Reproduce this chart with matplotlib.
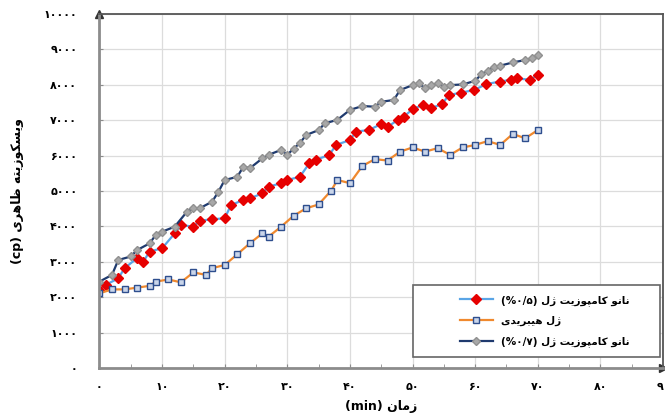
import matplotlib
matplotlib.use("Agg")
import matplotlib.pyplot as plt
from matplotlib.patches import Rectangle

# Viscosity (cp) versus time (min) for the three gels
t_nano05 = [0, 1, 3, 4, 6, 7, 8, 10, 12, 13, 15, 16, 18, 20, 21, 23, 24, 26, 27, 29,
            30, 32, 33.5, 34.6, 36.7, 37.8, 40, 41, 43, 45, 46, 47.6, 48.6, 50, 51.6,
            52.9, 54.7, 55.8, 57.8, 59.8, 61.8, 63.9, 65.7, 66.7, 68.8, 70]
v_nano05 = [2200, 2350, 2530, 2820, 3100, 3000, 3290, 3380, 3800, 4040, 3990, 4160,
            4200, 4230, 4600, 4750, 4790, 4930, 5120, 5220, 5310, 5400, 5780, 5880,
            6020, 6300, 6440, 6680, 6720, 6890, 6810, 7000, 7100, 7310, 7430, 7340,
            7450, 7710, 7780, 7850, 8020, 8090, 8140, 8180, 8140, 8280]

t_hybrid = [0, 2, 4, 6, 8, 9, 11, 13, 15, 17, 18, 20, 22, 24, 26, 27, 29, 31, 33, 35,
            37, 38, 40, 42, 44, 46, 48, 50, 52, 54, 56, 58, 60, 62, 64, 66, 68, 70]
v_hybrid = [2110, 2220, 2220, 2270, 2320, 2440, 2500, 2420, 2700, 2630, 2820, 2910,
            3210, 3520, 3800, 3710, 3990, 4300, 4510, 4620, 5010, 5310, 5220, 5710,
            5900, 5860, 6110, 6230, 6110, 6210, 6020, 6230, 6300, 6410, 6300, 6610,
            6490, 6720]

t_nano07 = [0, 2, 3, 5, 6, 8, 9, 10, 12, 14, 15, 16, 18, 19, 20, 22, 23, 24, 26, 27,
            29, 30, 31, 32, 33, 35, 36, 38, 40, 42, 44, 45, 47, 48, 50, 51, 52, 53,
            54, 55, 56, 58, 60, 61, 62, 63, 64, 66, 68, 69, 70]
v_nano07 = [2440, 2630, 3050, 3150, 3330, 3520, 3760, 3850, 3990, 4420, 4510, 4510,
            4700, 4980, 5310, 5400, 5690, 5640, 5920, 6020, 6160, 6020, 6200, 6350,
            6580, 6720, 6910, 7010, 7290, 7400, 7380, 7520, 7570, 7850, 7990, 8040,
            7900, 7990, 8040, 7950, 7990, 8010, 8110, 8300, 8400, 8510, 8540, 8630,
            8700, 8750, 8840]

x_ticks = list(range(0, 100, 10))
y_ticks = list(range(0, 11000, 1000))

# contextual forms: isolated, final[, initial, medial]
FORMS = {
    'ا': ('\uFE8D', '\uFE8E'),
    'ب': ('\uFE8F', '\uFE90', '\uFE91', '\uFE92'),
    'پ': ('\uFB56', '\uFB57', '\uFB58', '\uFB59'),
    'ت': ('\uFE95', '\uFE96', '\uFE97', '\uFE98'),
    'د': ('\uFEA9', '\uFEAA'),
    'ر': ('\uFEAD', '\uFEAE'),
    'ز': ('\uFEAF', '\uFEB0'),
    'ژ': ('\uFB8A', '\uFB8B'),
    'س': ('\uFEB1', '\uFEB2', '\uFEB3', '\uFEB4'),
    'ظ': ('\uFEC5', '\uFEC6', '\uFEC7', '\uFEC8'),
    'ک': ('\uFB8E', '\uFB8F', '\uFB90', '\uFB91'),
    'ل': ('\uFEDD', '\uFEDE', '\uFEDF', '\uFEE0'),
    'م': ('\uFEE1', '\uFEE2', '\uFEE3', '\uFEE4'),
    'ن': ('\uFEE5', '\uFEE6', '\uFEE7', '\uFEE8'),
    'ه': ('\uFEE9', '\uFEEA', '\uFEEB', '\uFEEC'),
    'و': ('\uFEED', '\uFEEE'),
    'ی': ('\uFBFC', '\uFBFD', '\uFBFE', '\uFBFF'),
}


def rtl(s):
    # shape persian letters and put them in visual (left-to-right) order
    out = []
    for i, ch in enumerate(s):
        f = FORMS.get(ch)
        if f is None:
            out.append(ch)
            continue
        prev = s[i - 1] if i > 0 else ''
        nxt = s[i + 1] if i + 1 < len(s) else ''
        join_prev = prev in FORMS and len(FORMS[prev]) == 4
        join_next = len(f) == 4 and nxt in FORMS
        if join_prev and join_next:
            out.append(f[3])
        elif join_prev:
            out.append(f[1])
        elif join_next:
            out.append(f[2])
        else:
            out.append(f[0])
    return ''.join(reversed(out))


def fa_digits(n):
    return str(n).translate(str.maketrans('0123456789', '۰۱۲۳۴۵۶۷۸۹'))


plt.rcParams['font.family'] = ['DejaVu Sans']
plt.rcParams['font.weight'] = 'bold'

fig = plt.figure(figsize=(6.65, 4.16), dpi=100)
ax = fig.add_axes([0.1496, 0.1154, 0.8474, 0.851])

ax.plot(t_nano05, v_nano05, color='#5aa5e6', lw=1.6, marker='D', ms=4.6,
        mfc='#e60000', mec='#e60000', label='(%۰/۵) ' + rtl('نانو کامپوزیت ژل'))
ax.plot(t_hybrid, v_hybrid, color='#f0892e', lw=1.6, marker='s', ms=5,
        mfc='#c9d5ea', mec='#2e4e8e', mew=1.0, label=rtl('ژل هیبریدی'))
ax.plot(t_nano07, v_nano07, color='#1f3a6e', lw=1.6, marker='D', ms=4.4,
        mfc='#a8a8a8', mec='#909090', label='(%۰/۷) ' + rtl('نانو کامپوزیت ژل'))

ax.set_xlim(0, 90)
ax.set_ylim(0, 10000)
ax.set_xticks(x_ticks)
ax.set_xticks(range(5, 90, 10), minor=True)
ax.set_yticks(y_ticks)
ax.set_xticklabels([fa_digits(v) for v in x_ticks], fontsize=8, fontweight='bold')
ax.set_yticklabels([fa_digits(v) for v in y_ticks], fontsize=8, fontweight='bold')
ax.tick_params(axis='both', which='both', direction='in', color='#8c8c8c', length=3)
ax.tick_params(axis='x', pad=10)
ax.tick_params(axis='y', pad=16)

ax.grid(True, color='#dcdcdc', lw=0.9)
ax.set_axisbelow(True)

for side in ('left', 'bottom'):
    ax.spines[side].set_color('#8c8c8c')
    ax.spines[side].set_linewidth(2)
for side in ('top', 'right'):
    ax.spines[side].set_color('#555555')
    ax.spines[side].set_linewidth(1.3)

# arrow heads on the two axes
ax.plot([0], [1], marker='^', ms=6, color='#333333', transform=ax.transAxes, clip_on=False)
ax.plot([1], [0], marker='>', ms=6, color='#333333', transform=ax.transAxes, clip_on=False)

ax.set_xlabel('(min) ' + rtl('زمان'), fontsize=9, fontweight='bold', labelpad=6)
ax.set_ylabel('(cp) ' + rtl('ویسکوزیته ظاهری'), fontsize=9, fontweight='bold', labelpad=14)

# legend box
ax.add_patch(Rectangle((0.556, 0.031), 0.439, 0.203, transform=ax.transAxes,
                       facecolor='white', edgecolor='#666666', lw=1.2, zorder=5))
ax.legend(loc='center', bbox_to_anchor=(0.79, 0.1325), frameon=False,
          fontsize=7.5, handlelength=3.2, labelspacing=1.0, borderaxespad=0)

fig.savefig('out.png', dpi=100)
